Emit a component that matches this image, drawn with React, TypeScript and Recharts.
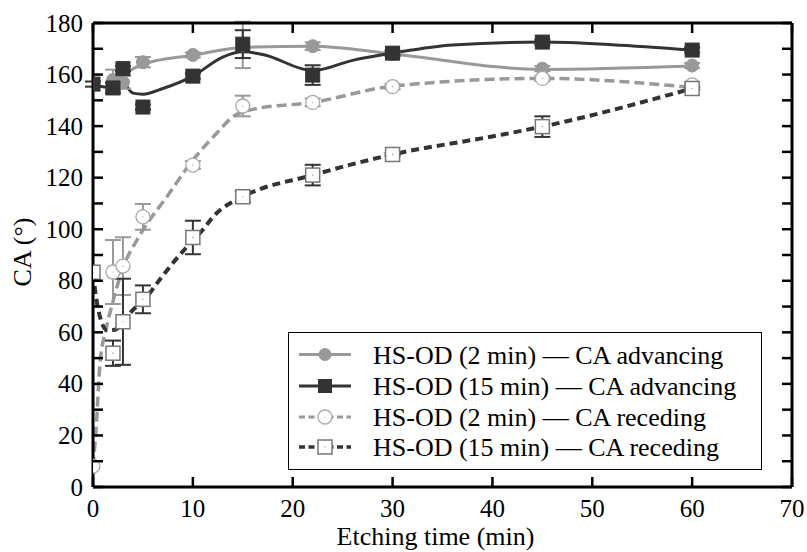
import React from 'react';
import { ComposedChart, Line, Scatter, XAxis, YAxis, ErrorBar, Label } from 'recharts';

const FONT = "'Liberation Serif', 'Times New Roman', serif";
const GRAY = '#999999';
const DARK = '#333333';
const TICK_FS = 25;
const TEXT_FS = 26;

// Measured points (etching time in min, contact angle in degrees, error)
const timeAdv2 = [2, 3, 5, 10, 15, 22, 30, 45, 60];
const caAdv2 = [157.9, 157, 164.8, 167.6, 171.5, 171, 168, 162.3, 163.5];
const errAdv2 = [4, 2.5, 2, 1, 9, 1.5, 1, 1, 1];

const timeAdv15 = [0, 2, 3, 5, 10, 15, 22, 30, 45, 60];
const caAdv15 = [156.3, 154.8, 162.3, 147.4, 159.4, 171.8, 159.8, 168.3, 172.6, 169.5];
const errAdv15 = [1, 2, 1, 1, 1, 5.4, 3.8, 1, 1, 1];

const timeRec2 = [0, 2, 3, 5, 10, 15, 22, 30, 45, 60];
const caRec2 = [8.1, 83.4, 85.7, 104.8, 124.9, 147.8, 149.2, 155.3, 158.5, 156];
const errRec2 = [0, 12.4, 11.2, 5, 1.5, 4, 1.5, 1, 1, 1];

const timeRec15 = [0, 2, 3, 5, 10, 15, 22, 30, 45, 60];
const caRec15 = [83.3, 51.9, 64.1, 72.8, 96.8, 112.6, 121, 129, 139.8, 154.6];
const errRec15 = [0, 4.9, 16.7, 5.4, 6.5, 2, 4, 0.5, 4, 0.5];

// Smoothed fit curves
const fitTimeAdv2 = [2, 3, 5, 10, 15, 22, 30, 45, 60];
const fitAdv2 = [157.5, 160, 164, 167.5, 170.5, 171, 168, 162, 163.3];

const fitTimeAdv15 = [0, 2, 3, 4, 5, 7, 10, 13, 15, 17, 22, 26, 30, 36, 45, 52, 60];
const fitAdv15 = [155.9, 155, 156.5, 152.8, 152.4, 154.6, 159.4, 166.8, 168.8, 167.8, 161.5, 165.5, 168.3, 171.5, 172.6, 171.6, 169.5];

const fitTimeRec2 = [0, 0.3, 0.7, 1.3, 2, 3, 4.4, 5, 7.4, 10, 12.4, 14, 16, 22, 30, 45, 60];
const fitRec2 = [8, 22, 48, 61, 72, 85, 95.8, 99.7, 112.6, 126.8, 137.3, 143.6, 146.5, 149.2, 155.5, 158.5, 155];

const fitTimeRec15 = [0, 0.3, 0.7, 1.4, 2.2, 3, 4, 5, 6.4, 8, 9.3, 10.7, 12.4, 15, 22, 30, 40.7, 45, 60];
const fitRec15 = [83, 73.8, 66, 60.9, 61, 63.7, 68.7, 71.9, 79, 86.9, 92.7, 98.5, 106.3, 112.6, 121, 129, 136.5, 139.8, 154.6];

const xTicks = [0, 10, 20, 30, 40, 50, 60, 70];
const yTicks = [0, 10, 20, 30, 40, 50, 60, 70, 80, 90, 100, 110, 120, 130, 140, 150, 160, 170, 180];

const legendNames = [
  'HS-OD (2 min) \u2014 CA advancing',
  'HS-OD (15 min) \u2014 CA advancing',
  'HS-OD (2 min) \u2014 CA receding',
  'HS-OD (15 min) \u2014 CA receding',
];

const mk = (ts: number[], cs: number[], es?: number[]) =>
  ts.map((t, i) => ({ t, ca: cs[i], err: es ? es[i] : 0 }));

const ptsAdv2 = mk(timeAdv2, caAdv2, errAdv2);
const ptsAdv15 = mk(timeAdv15, caAdv15, errAdv15);
const ptsRec2 = mk(timeRec2, caRec2, errRec2);
const ptsRec15 = mk(timeRec15, caRec15, errRec15);
const curveAdv2 = mk(fitTimeAdv2, fitAdv2);
const curveAdv15 = mk(fitTimeAdv15, fitAdv15);
const curveRec2 = mk(fitTimeRec2, fitRec2);
const curveRec15 = mk(fitTimeRec15, fitRec15);

const FilledCircle = (p: any) => (
  <circle cx={p.cx} cy={p.cy} r={6.5} fill={GRAY} stroke={GRAY} strokeWidth={1} />
);
const FilledSquare = (p: any) => (
  <rect x={p.cx - 7} y={p.cy - 7} width={14} height={14} fill={DARK} stroke={DARK} strokeWidth={1} />
);
const OpenCircle = (p: any) => (
  <g>
    <circle cx={p.cx} cy={p.cy} r={7} fill="#fff" stroke="#aaaaaa" strokeWidth={1.3} />
    <circle cx={p.cx} cy={p.cy} r={0.6} fill="#999" />
  </g>
);
const OpenSquare = (p: any) => (
  <g>
    <rect x={p.cx - 7} y={p.cy - 7} width={14} height={14} fill="#fff" stroke="#777" strokeWidth={1.5} />
    <circle cx={p.cx} cy={p.cy} r={0.6} fill="#777" />
  </g>
);

const BottomTick = (p: any) => (
  <g>
    <line x1={p.x} x2={p.x} y1={p.y} y2={p.y - 10} stroke="#000" strokeWidth={2.5} />
    <text x={p.x} y={p.y + 29.5} textAnchor="middle" fontSize={TICK_FS} fontFamily={FONT} fill="#000">
      {p.payload.value}
    </text>
  </g>
);
const TopTick = (p: any) => (
  <line x1={p.x} x2={p.x} y1={p.y} y2={p.y + 10} stroke="#000" strokeWidth={2.5} />
);
const LeftTick = (p: any) => (
  <g>
    <line x1={p.x} x2={p.x + 10} y1={p.y} y2={p.y} stroke="#000" strokeWidth={2.5} />
    {p.payload.value % 20 === 0 ? (
      <text x={p.x - 10} y={p.y + 8.5} textAnchor="end" fontSize={TICK_FS} fontFamily={FONT} fill="#000">
        {p.payload.value}
      </text>
    ) : null}
  </g>
);
const RightTick = (p: any) => (
  <line x1={p.x} x2={p.x - 10} y1={p.y} y2={p.y} stroke="#000" strokeWidth={2.5} />
);

const axisLine = { stroke: '#000', strokeWidth: 3 };

const LegendBox = () => {
  const rows = [353.5, 385, 416, 446].map((v) => v - 332);
  return (
    <div
      style={{
        position: 'absolute',
        left: 288,
        top: 332,
        width: 474,
        height: 138,
        border: '1.5px solid #000',
        boxSizing: 'border-box',
        background: '#fff',
      }}
    >
      <svg width={472} height={136} style={{ position: 'absolute', left: 0, top: 0 }}>
        <line x1={10} x2={62} y1={rows[0]} y2={rows[0]} stroke={GRAY} strokeWidth={3} />
        <circle cx={36} cy={rows[0]} r={6.5} fill={GRAY} />
        <line x1={10} x2={62} y1={rows[1]} y2={rows[1]} stroke={DARK} strokeWidth={3} />
        <rect x={29} y={rows[1] - 7} width={14} height={14} fill={DARK} />
        <line x1={10} x2={62} y1={rows[2]} y2={rows[2]} stroke={GRAY} strokeWidth={3} strokeDasharray="6 3.5" />
        <circle cx={36} cy={rows[2]} r={7} fill="#fff" stroke="#aaa" strokeWidth={1.3} />
        <circle cx={36} cy={rows[2]} r={0.6} fill="#999" />
        <line x1={10} x2={62} y1={rows[3]} y2={rows[3]} stroke={DARK} strokeWidth={3.5} strokeDasharray="6 3.5" />
        <rect x={29} y={rows[3] - 7} width={14} height={14} fill="#fff" stroke="#777" strokeWidth={1.5} />
        <circle cx={36} cy={rows[3]} r={0.6} fill="#777" />
        {legendNames.map((n, i) => (
          <text key={n} x={84} y={rows[i] + 9} fontSize={TEXT_FS} fontFamily={FONT} fill="#000">
            {n}
          </text>
        ))}
      </svg>
    </div>
  );
};

export default function App() {
  return (
    <div style={{ position: 'absolute', left: 0, top: 0, width: 807, height: 552, background: '#fff' }}>
      <ComposedChart width={807} height={552} margin={{ top: 22, right: 10, bottom: 0, left: 33 }}>
        <XAxis
          xAxisId="bottom"
          dataKey="t"
          type="number"
          domain={[0, 70]}
          ticks={xTicks}
          interval={0}
          allowDataOverflow
          height={65}
          tickSize={0}
          tickMargin={0}
          tickLine={false}
          axisLine={axisLine}
          tick={BottomTick}
        >
          <Label
            content={(p: any) => {
              const vb = p.viewBox || { x: 93, y: 487, width: 699, height: 65 };
              return (
                <text
                  x={vb.x + vb.width / 2 - 7}
                  y={545}
                  textAnchor="middle"
                  fontSize={TEXT_FS}
                  fontFamily={FONT}
                  fill="#000"
                >
                  Etching time (min)
                </text>
              );
            }}
          />
        </XAxis>
        <XAxis
          xAxisId="top"
          dataKey="t"
          type="number"
          orientation="top"
          domain={[0, 70]}
          ticks={xTicks}
          interval={0}
          allowDataOverflow
          height={1}
          tickSize={0}
          tickMargin={0}
          tickLine={false}
          axisLine={axisLine}
          tick={TopTick}
        />
        <YAxis
          yAxisId="left"
          dataKey="ca"
          type="number"
          domain={[0, 180]}
          ticks={yTicks}
          interval={0}
          allowDataOverflow
          width={60}
          tickSize={0}
          tickMargin={0}
          tickLine={false}
          axisLine={axisLine}
          tick={LeftTick}
        >
          <Label
            content={(p: any) => {
              const vb = p.viewBox || { x: 33, y: 23, width: 60, height: 464 };
              const cx = 22;
              const cy = vb.y + vb.height / 2 - 3;
              return (
                <text
                  x={cx}
                  y={cy}
                  textAnchor="middle"
                  dominantBaseline="central"
                  fontSize={TEXT_FS}
                  fontFamily={FONT}
                  fill="#000"
                  transform={`rotate(-90, ${cx}, ${cy})`}
                >
                  CA (°)
                </text>
              );
            }}
          />
        </YAxis>
        <YAxis
          yAxisId="right"
          dataKey="ca"
          type="number"
          orientation="right"
          domain={[0, 180]}
          ticks={yTicks}
          interval={0}
          allowDataOverflow
          width={5}
          tickSize={0}
          tickMargin={0}
          tickLine={false}
          axisLine={axisLine}
          tick={RightTick}
        />

        <Line
          xAxisId="bottom"
          yAxisId="left"
          data={curveAdv2}
          dataKey="ca"
          type="monotone"
          stroke={GRAY}
          strokeWidth={3}
          dot={false}
          activeDot={false}
          isAnimationActive={false}
        />
        <Line
          xAxisId="bottom"
          yAxisId="left"
          data={curveAdv15}
          dataKey="ca"
          type="monotone"
          stroke={DARK}
          strokeWidth={3}
          dot={false}
          activeDot={false}
          isAnimationActive={false}
        />
        <Line
          xAxisId="bottom"
          yAxisId="left"
          data={curveRec2}
          dataKey="ca"
          type="monotone"
          stroke={GRAY}
          strokeWidth={3.5}
          strokeDasharray="10 5"
          dot={false}
          activeDot={false}
          isAnimationActive={false}
        />
        <Line
          xAxisId="bottom"
          yAxisId="left"
          data={curveRec15}
          dataKey="ca"
          type="monotone"
          stroke={DARK}
          strokeWidth={4}
          strokeDasharray="8 5"
          dot={false}
          activeDot={false}
          isAnimationActive={false}
        />

        <Scatter xAxisId="bottom" yAxisId="left" data={ptsAdv2} dataKey="ca" shape={FilledCircle} isAnimationActive={false}>
          <ErrorBar dataKey="err" direction="y" width={8} stroke={GRAY} strokeWidth={2} />
        </Scatter>
        <Scatter xAxisId="bottom" yAxisId="left" data={ptsAdv15} dataKey="ca" shape={FilledSquare} isAnimationActive={false}>
          <ErrorBar dataKey="err" direction="y" width={8} stroke={DARK} strokeWidth={2} />
        </Scatter>
        <Scatter xAxisId="bottom" yAxisId="left" data={ptsRec2} dataKey="ca" shape={OpenCircle} isAnimationActive={false}>
          <ErrorBar dataKey="err" direction="y" width={8} stroke={GRAY} strokeWidth={2} />
        </Scatter>
        <Scatter xAxisId="bottom" yAxisId="left" data={ptsRec15} dataKey="ca" shape={OpenSquare} isAnimationActive={false}>
          <ErrorBar dataKey="err" direction="y" width={8} stroke={DARK} strokeWidth={2} />
        </Scatter>
      </ComposedChart>
      <LegendBox />
    </div>
  );
}
